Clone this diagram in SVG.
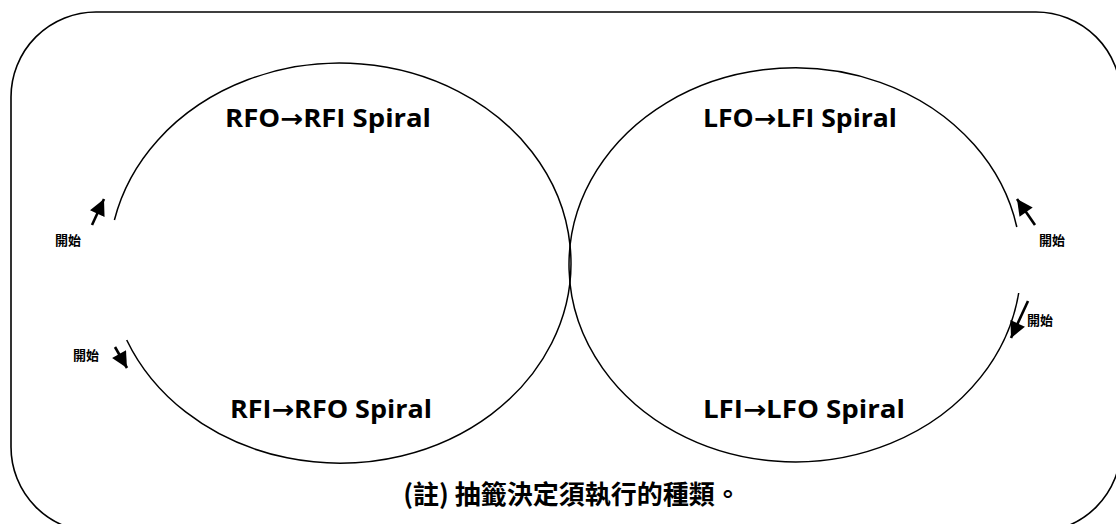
<svg xmlns="http://www.w3.org/2000/svg" width="1116" height="524" viewBox="0 0 1116 524">
<style>
.frame{fill:none;stroke:#000;stroke-width:1.6}
.loop{fill:none;stroke:#000;stroke-width:1.5}
.arr{stroke:#000;stroke-width:2.6;fill:none}
.lbl{font-family:"Open Sans","Liberation Sans","DejaVu Sans",sans-serif;font-weight:700;font-size:25px;fill:#000}
.ar{font-family:"DejaVu Sans",sans-serif;font-weight:700}
.start{font-family:"Noto Sans CJK TC","Noto Sans CJK SC",sans-serif;font-weight:700;font-size:13px;fill:#000}
.note{font-family:"Noto Sans CJK TC","Noto Sans CJK SC",sans-serif;font-weight:700;font-size:26px;fill:#000}
</style>
<defs>
<marker id="head" viewBox="0 0 10 10" refX="10" refY="5" markerWidth="17" markerHeight="16" markerUnits="userSpaceOnUse" orient="auto">
<path d="M0,0 L10,5 L0,10 z" fill="#000"/>
</marker>
</defs>
<rect class="frame" x="11" y="12" width="1110" height="520" rx="85" ry="85"/>
<g id="connectors">
<path class="loop" d="M114.4,220 A231,200 0 1 1 126.7,340"/>
<path class="loop" d="M1016.8,227 A226,197 0 1 0 1018.7,293"/>
<line class="arr" x1="92" y1="225" x2="104" y2="199" marker-end="url(#head)"/>
<line class="arr" x1="115" y1="347" x2="127" y2="368" marker-end="url(#head)"/>
<line class="arr" x1="1035" y1="225" x2="1017" y2="199" marker-end="url(#head)"/>
<line class="arr" x1="1028" y1="301" x2="1011" y2="338" marker-end="url(#head)"/>
</g>
<g id="rfo-rfi"><text class="lbl" x="225" y="127" textLength="206" lengthAdjust="spacingAndGlyphs">RFO<tspan class="ar">→</tspan>RFI Spiral</text></g>
<g id="lfo-lfi"><text class="lbl" x="703" y="127" textLength="194" lengthAdjust="spacingAndGlyphs">LFO<tspan class="ar">→</tspan>LFI Spiral</text></g>
<g id="rfi-rfo"><text class="lbl" x="230" y="418" textLength="202" lengthAdjust="spacingAndGlyphs">RFI<tspan class="ar">→</tspan>RFO Spiral</text></g>
<g id="lfi-lfo"><text class="lbl" x="703" y="418" textLength="202" lengthAdjust="spacingAndGlyphs">LFI<tspan class="ar">→</tspan>LFO Spiral</text></g>
<g id="start-1"><text class="start" x="55" y="245">開始</text></g>
<g id="start-2"><text class="start" x="73" y="360">開始</text></g>
<g id="start-3"><text class="start" x="1039" y="245">開始</text></g>
<g id="start-4"><text class="start" x="1027" y="325">開始</text></g>
<g id="note"><text class="note" x="572" y="504" text-anchor="middle">(註) 抽籤決定須執行的種類。</text></g>
</svg>
